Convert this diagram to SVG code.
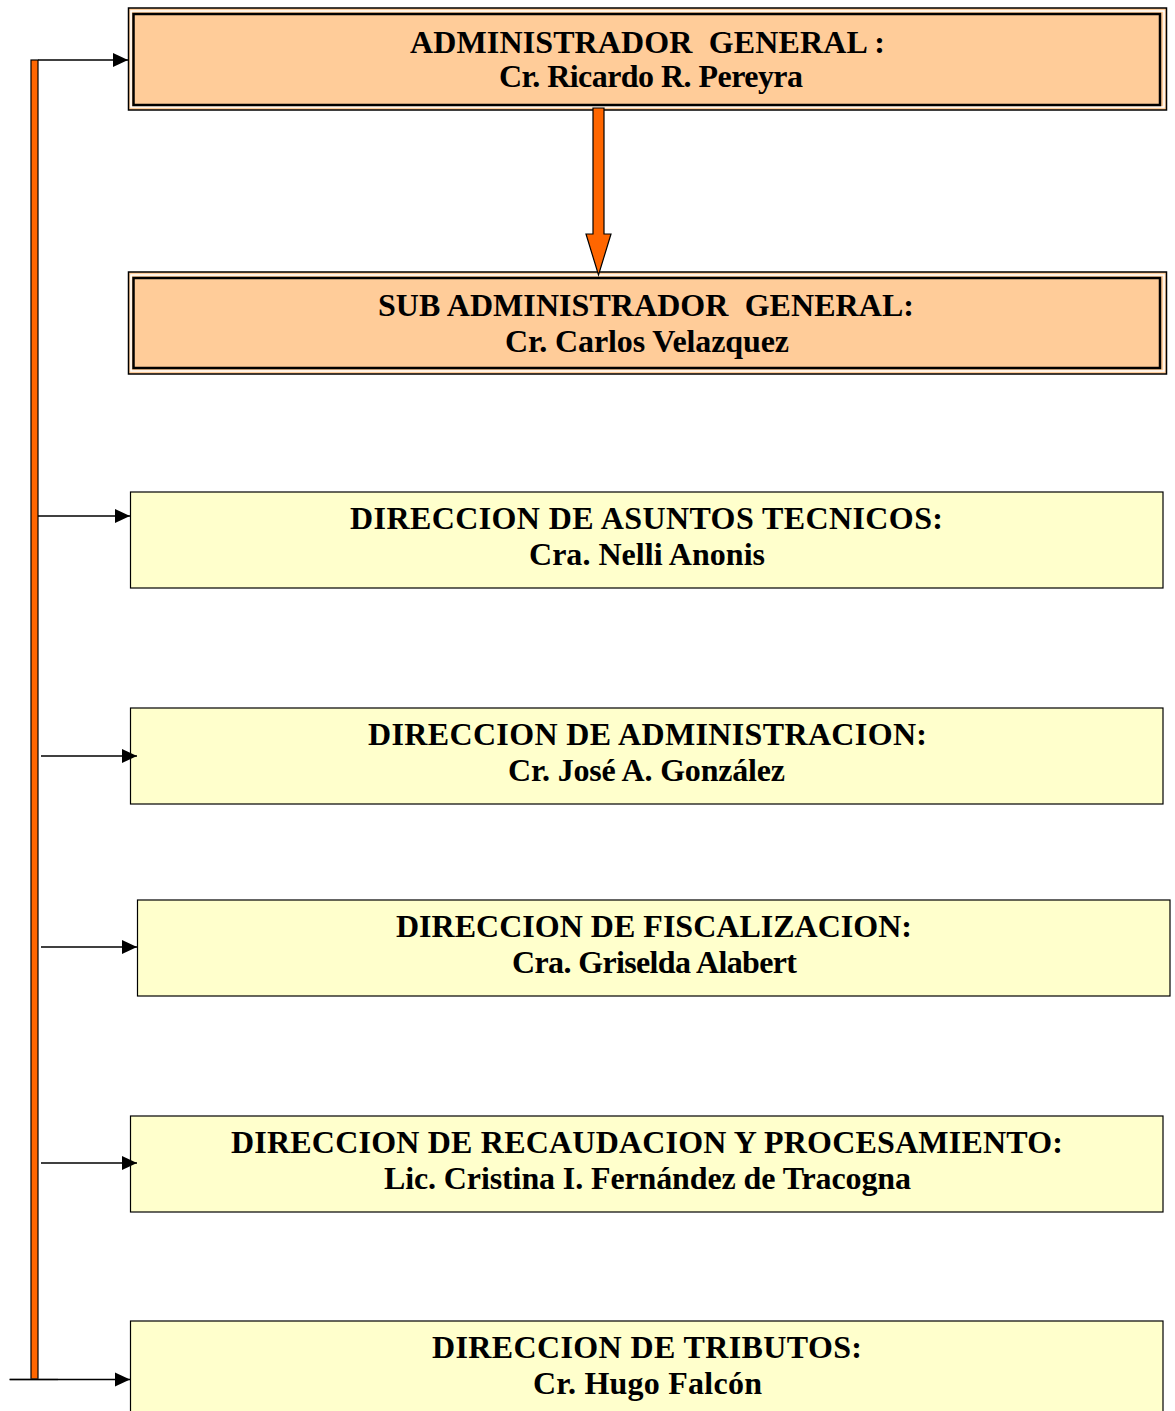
<svg xmlns="http://www.w3.org/2000/svg" width="1175" height="1411" viewBox="0 0 1175 1411">
<style>
.t{font-family:"Liberation Serif","Times New Roman",serif;font-weight:bold;font-size:32px;fill:#000;text-anchor:middle;white-space:pre}
.outer{fill:#FFCC99;stroke:#000;stroke-width:1.5}
.inner{fill:#FFCC99;stroke:#000;stroke-width:2.5}
.gap{fill:none;stroke:#fff;stroke-width:1.5}
.box{fill:#FFFFCC;stroke:#000;stroke-width:1.2}
.ln{stroke:#000;stroke-width:1.5;fill:none}
</style>
<defs>
<marker id="ah" markerWidth="15" markerHeight="15" viewBox="0 0 15 15" refX="15" refY="7.5" orient="auto" markerUnits="userSpaceOnUse">
<path d="M0,0.5 L15,7.5 L0,14.5 Z" fill="#000"/>
</marker>
</defs>
<g id="admin-general">
<rect class="outer" x="128.5" y="8" width="1038" height="102"/>
<rect class="gap" x="131" y="11" width="1033" height="96"/>
<rect class="inner" x="133.5" y="14" width="1026.5" height="91"/>
<text class="t" x="647.5" y="53" textLength="475" lengthAdjust="spacing">ADMINISTRADOR  GENERAL :</text>
<text class="t" x="651" y="87" textLength="304" lengthAdjust="spacing">Cr. Ricardo R. Pereyra</text>
</g>
<g id="sub-admin">
<rect class="outer" x="128.5" y="272" width="1038" height="102"/>
<rect class="gap" x="131" y="275" width="1033" height="96"/>
<rect class="inner" x="133.5" y="278" width="1026.5" height="90"/>
<text class="t" x="646" y="316" textLength="536" lengthAdjust="spacing">SUB ADMINISTRADOR  GENERAL:</text>
<text class="t" x="647" y="352" textLength="284" lengthAdjust="spacing">Cr. Carlos Velazquez</text>
</g>
<g id="asuntos-tecnicos">
<rect class="box" x="130.5" y="492" width="1032.5" height="96"/>
<text class="t" x="646.5" y="529" textLength="593" lengthAdjust="spacing">DIRECCION DE ASUNTOS TECNICOS:</text>
<text class="t" x="647" y="565" textLength="236" lengthAdjust="spacing">Cra. Nelli Anonis</text>
</g>
<g id="administracion">
<rect class="box" x="130.5" y="708" width="1032.5" height="96"/>
<text class="t" x="647.5" y="745" textLength="559" lengthAdjust="spacing">DIRECCION DE ADMINISTRACION:</text>
<text class="t" x="646.5" y="781" textLength="277" lengthAdjust="spacing">Cr. José A. González</text>
</g>
<g id="fiscalizacion">
<rect class="box" x="137.5" y="900" width="1032.5" height="96"/>
<text class="t" x="654" y="937" textLength="516" lengthAdjust="spacing">DIRECCION DE FISCALIZACION:</text>
<text class="t" x="654.5" y="973" textLength="285" lengthAdjust="spacing">Cra. Griselda Alabert</text>
</g>
<g id="recaudacion">
<rect class="box" x="130.5" y="1116" width="1032.5" height="96"/>
<text class="t" x="647" y="1153" textLength="832" lengthAdjust="spacing">DIRECCION DE RECAUDACION Y PROCESAMIENTO:</text>
<text class="t" x="647.5" y="1189" textLength="527" lengthAdjust="spacing">Lic. Cristina I. Fernández de Tracogna</text>
</g>
<g id="tributos">
<rect class="box" x="130.5" y="1321" width="1032.5" height="96"/>
<text class="t" x="647" y="1358" textLength="430" lengthAdjust="spacing">DIRECCION DE TRIBUTOS:</text>
<text class="t" x="647.5" y="1394" textLength="229" lengthAdjust="spacing">Cr. Hugo Falcón</text>
</g>
<g id="connectors">
<rect x="31" y="60" width="7" height="1319" fill="#FF6600" stroke="#000" stroke-width="1.2"/>
<line x1="9" y1="1379.5" x2="58" y2="1379.5" stroke="#777" stroke-width="1.5"/>
<line class="ln" x1="38" y1="60" x2="128" y2="60" marker-end="url(#ah)"/>
<line class="ln" x1="38" y1="516" x2="130" y2="516" marker-end="url(#ah)"/>
<line class="ln" x1="41" y1="756" x2="137" y2="756" marker-end="url(#ah)"/>
<line class="ln" x1="41" y1="947" x2="137" y2="947" marker-end="url(#ah)"/>
<line class="ln" x1="41" y1="1163" x2="137" y2="1163" marker-end="url(#ah)"/>
<line class="ln" x1="10" y1="1379.5" x2="130" y2="1379.5" marker-end="url(#ah)"/>
<path d="M593,108 L604,108 L604,234 L611,234 L598.5,275 L586,234 L593,234 Z" fill="#FF6600" stroke="#000" stroke-width="1.2"/>
</g>
</svg>
